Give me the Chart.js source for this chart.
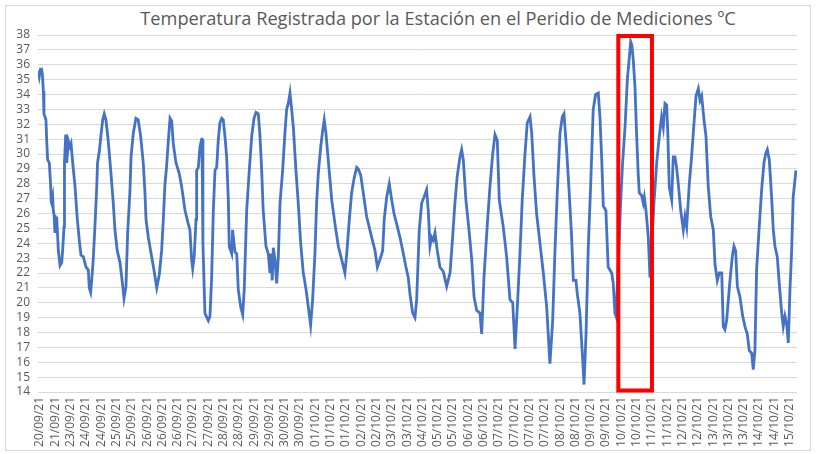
<!DOCTYPE html>
<html><head><meta charset="utf-8">
<script src="https://cdn.jsdelivr.net/npm/chart.js@4"></script>
<style>
html,body{margin:0;padding:0;background:#fff;}
#wrap{position:relative;width:817px;height:454px;}
#frame{position:absolute;left:5px;top:5px;width:806px;height:446px;border:1px solid #d9d9d9;box-sizing:border-box;}
#title{position:absolute;left:38px;width:800px;top:6px;text-align:center;font-family:"Open Sans",sans-serif;font-size:18.2px;color:#595959;white-space:nowrap;}
canvas{position:absolute;left:0;top:0;}
</style></head>
<body><div id="wrap"><div id="frame"></div><div id="title">Temperatura Registrada por la Estación en el Peridio de Mediciones ºC</div><canvas id="c" width="817" height="454"></canvas></div>
<script>
const tickLabels = ["20/09/21","21/09/21","23/09/21","24/09/21","24/09/21","25/09/21","25/09/21","26/09/21","26/09/21","26/09/21",
"27/09/21","27/09/21","28/09/21","28/09/21","29/09/21","29/09/21","30/09/21","30/09/21","01/10/21","01/10/21",
"01/10/21","02/10/21","02/10/21","03/10/21","03/10/21","04/10/21","05/10/21","05/10/21","06/10/21","06/10/21",
"07/10/21","07/10/21","07/10/21","07/10/21","08/10/21","08/10/21","09/10/21","09/10/21","10/10/21","10/10/21",
"11/10/21","11/10/21","12/10/21","12/10/21","13/10/21","13/10/21","13/10/21","14/10/21","14/10/21","15/10/21"];

// position along the category axis (tick index units)
const positions = [-0.12,-0.05,0.03,0.11,0.16,0.22,0.26,0.39,0.44,0.50,0.61,0.70,0.73,0.76,0.83,0.87,0.92,0.98,1.09,1.20,1.31,1.42,1.48,1.57,1.60,1.68,1.75,1.85,1.96,2.03,2.14,2.29,2.44,2.57,2.68,2.83,3.01,3.16,3.22,3.31,3.38,3.48,3.59,3.71,3.76,3.88,3.99,4.10,4.20,4.31,4.46,4.64,4.79,4.90,5.05,5.23,5.41,5.49,5.62,5.73,5.88,5.95,6.10,6.27,6.42,6.58,6.75,6.86,6.93,7.08,7.30,7.45,7.63,7.80,7.95,8.06,8.17,8.27,8.39,8.50,8.61,8.71,8.89,9.10,9.26,9.48,9.69,9.80,9.91,9.98,10.08,10.20,10.24,10.35,10.46,10.57,10.59,10.65,10.78,11.00,11.11,11.22,11.33,11.44,11.55,11.65,11.76,11.88,11.98,12.09,12.20,12.31,12.37,12.53,12.59,12.68,12.75,12.86,12.96,13.12,13.25,13.35,13.51,13.68,13.84,13.99,14.12,14.27,14.38,14.49,14.59,14.77,14.92,15.03,15.10,15.18,15.25,15.36,15.47,15.58,15.69,15.86,16.01,16.12,16.23,16.34,16.45,16.56,16.73,16.88,17.04,17.21,17.39,17.54,17.69,17.82,17.97,18.08,18.19,18.35,18.48,18.58,18.69,18.84,19.07,19.28,19.50,19.72,19.93,20.05,20.22,20.37,20.52,20.70,20.80,20.96,21.13,21.35,21.68,21.90,22.05,22.22,22.40,22.50,22.66,22.83,22.99,23.14,23.31,23.53,23.75,23.92,24.07,24.18,24.36,24.51,24.62,24.79,24.95,25.10,25.27,25.38,25.49,25.60,25.71,25.82,25.97,26.14,26.36,26.58,26.80,26.97,27.12,27.27,27.45,27.56,27.67,27.84,28.06,28.22,28.37,28.54,28.76,28.87,29.02,29.24,29.41,29.59,29.74,29.89,30.02,30.28,30.50,30.72,30.90,31.05,31.20,31.37,31.52,31.70,31.85,32.03,32.14,32.29,32.46,32.68,32.90,33.12,33.33,33.51,33.66,33.81,33.99,34.14,34.25,34.42,34.59,34.75,34.86,35.03,35.12,35.29,35.47,35.56,35.69,35.84,35.99,36.16,36.32,36.49,36.60,36.71,36.82,36.99,37.08,37.14,37.37,37.47,37.58,37.65,37.80,37.95,38.08,38.24,38.39,38.52,38.61,38.69,38.78,38.89,39.00,39.10,39.17,39.33,39.43,39.50,39.61,39.76,39.87,39.98,40.13,40.31,40.48,40.63,40.74,40.85,40.96,41.03,41.13,41.29,41.39,41.50,41.61,41.72,41.88,42.05,42.16,42.27,42.44,42.59,42.75,42.88,43.03,43.14,43.25,43.40,43.53,43.68,43.84,44.01,44.12,44.27,44.40,44.56,44.66,44.77,44.88,45.10,45.25,45.36,45.47,45.58,45.75,45.93,46.08,46.23,46.36,46.52,46.62,46.73,46.84,47.01,47.17,47.32,47.43,47.54,47.67,47.82,47.93,48.04,48.19,48.32,48.48,48.58,48.69,48.80,48.91,49.02,49.13,49.23,49.41];

const temperatures = [35.6,35.2,35.7,35.7,35.3,34.2,32.7,32.3,30.9,29.6,29.4,27.8,26.8,26.7,27.1,26.2,25.9,24.7,25.8,23.5,22.5,22.7,23.5,25.1,29.4,31.3,29.4,30.9,30.5,30.7,29.4,27.8,25.6,24.2,23.2,23.1,22.4,22.2,21.0,20.7,21.5,22.9,25.1,27.8,29.4,30.2,31.3,32.3,32.7,32.3,30.9,28.7,26.7,24.9,23.5,22.7,21.1,20.3,21.1,24.7,27.5,29.8,31.4,32.4,32.3,31.2,29.4,27.4,25.6,24.4,23.1,22.2,21.0,21.9,23.5,25.6,28.0,29.1,30.9,32.4,32.2,30.7,29.4,28.7,27.8,26.2,25.3,24.9,22.9,22.3,23.1,25.6,28.9,29.1,30.5,31.0,31.0,24.0,19.3,18.8,19.1,21.7,26.2,28.9,29.1,30.9,32.1,32.4,32.3,31.2,29.8,26.9,23.8,23.3,24.9,24.0,23.4,23.3,20.9,19.7,19.2,20.9,26.2,28.9,31.2,32.4,32.8,32.7,31.2,28.9,26.2,23.8,23.3,22.0,23.3,21.5,23.7,22.9,21.3,23.1,26.7,28.9,31.4,33.0,33.4,34.1,33.0,31.8,28.9,26.7,24.0,22.0,20.9,19.7,18.5,20.2,23.3,26.7,28.7,30.5,31.6,32.3,31.4,29.6,26.9,25.3,23.8,22.9,22.0,23.3,25.6,27.4,28.3,29.1,29.0,28.6,27.4,25.8,24.4,23.5,22.4,22.9,23.5,25.6,27.1,28.0,26.9,26.0,25.3,24.4,23.3,22.4,21.7,20.6,19.3,19.0,20.2,24.9,26.7,27.1,27.6,26.2,23.8,24.4,24.2,24.7,23.5,22.4,22.1,21.1,22.0,24.4,26.7,28.5,29.8,30.3,29.6,26.9,24.7,22.9,20.4,19.5,19.3,17.9,21.7,25.3,27.8,30.0,31.3,30.9,26.9,25.1,23.1,20.2,20.0,16.9,19.7,23.3,26.9,30.0,32.1,32.5,31.4,28.5,26.0,24.0,22.0,19.7,15.9,18.8,23.5,27.4,31.4,32.5,32.7,30.3,27.4,24.4,21.5,21.5,20.6,19.3,16.2,14.5,17.9,23.8,27.8,33.0,34.0,34.1,32.5,29.8,26.5,26.2,23.8,22.4,22.0,21.3,19.3,19.1,22.6,26.7,29.4,31.8,35.0,36.5,37.55,37.3,36.3,34.5,31.2,28.7,27.4,27.2,26.7,27.1,26.2,24.4,21.7,23.8,26.7,29.4,31.2,32.5,31.8,33.4,33.3,31.6,27.8,26.9,29.8,29.8,29.1,28.0,26.2,24.9,25.8,25.1,28.0,29.8,32.1,33.9,34.4,33.6,33.9,32.3,31.2,27.8,25.8,24.9,22.6,21.5,22.0,22.0,18.4,18.2,18.8,21.5,23.1,23.8,23.5,21.1,20.4,19.1,18.4,17.9,16.8,16.6,15.5,16.8,22.2,25.1,27.6,29.4,30.0,30.3,29.6,27.1,24.9,23.8,23.1,21.3,19.3,18.4,19.1,18.6,17.3,20.9,23.5,27.1,28.9];

const yMin = 14, yMax = 38;
// highlighted period (10/10/21), in axis units
const highlightFrom = 37.8, highlightTo = 40.0;

const points = positions.map((x, i) => ({x: x, y: temperatures[i]}));

const highlightPlugin = {
  id: 'highlight',
  afterDatasetsDraw(chart) {
    const {ctx, scales: {x, y}} = chart;
    const l = x.getPixelForValue(highlightFrom), r = x.getPixelForValue(highlightTo);
    const t = y.getPixelForValue(yMax) + 1, b = y.getPixelForValue(yMin + 0.1);
    ctx.save();
    ctx.strokeStyle = '#FF0000';
    ctx.lineWidth = 4;
    ctx.strokeRect(l, t, r - l, b - t);
    ctx.restore();
  }
};

new Chart(document.getElementById('c'), {
  type: 'line',
  data: { datasets: [{
    data: points,
    borderColor: '#4472C4',
    borderWidth: 2.8,
    pointRadius: 0,
    tension: 0,
    fill: false
  }]},
  options: {
    responsive: false,
    animation: false,
    layout: { padding: { left: 0, right: 20, top: 35, bottom: 0 } },
    plugins: { legend: { display: false }, tooltip: { enabled: false } },
    scales: {
      x: {
        type: 'linear',
        min: -0.13, max: 49.48,
        afterBuildTicks: (s) => { s.ticks = tickLabels.map((_, i) => ({value: i})); },
        afterFit: (s) => { s.height = 62; },
        grid: { display: false, drawTicks: false },
        border: { display: false },
        ticks: {
          autoSkip: false, minRotation: 90, maxRotation: 90, padding: 5,
          color: '#595959', font: { family: 'Open Sans', size: 12 },
          callback: (v) => tickLabels[Math.round(v)]
        }
      },
      y: {
        min: yMin, max: yMax,
        afterFit: (s) => { s.width = 38; },
        grid: { color: '#d9d9d9', lineWidth: 1, drawTicks: false },
        border: { display: false },
        ticks: { stepSize: 1, autoSkip: false, padding: 8, color: '#595959', font: { family: 'Open Sans', size: 12 } }
      }
    }
  },
  plugins: [highlightPlugin]
});
</script></body></html>
